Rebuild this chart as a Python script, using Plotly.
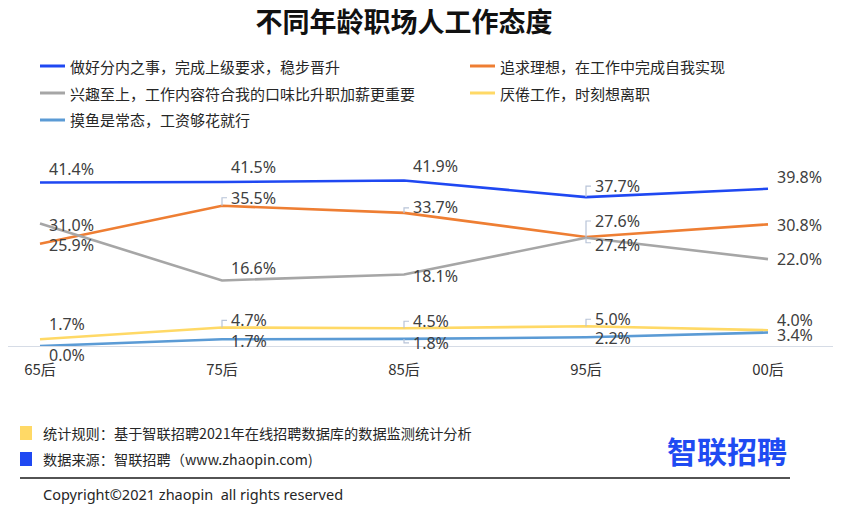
import plotly.graph_objects as go

# data
categories = ["65后", "75后", "85后", "95后", "00后"]
series_names = [
    "做好分内之事，完成上级要求，稳步晋升",
    "追求理想，在工作中完成自我实现",
    "兴趣至上，工作内容符合我的口味比升职加薪更重要",
    "厌倦工作，时刻想离职",
    "摸鱼是常态，工资够花就行",
]
steady = [41.4, 41.5, 41.9, 37.7, 39.8]
ideal = [25.9, 35.5, 33.7, 27.6, 30.8]
interest = [31.0, 16.6, 18.1, 27.4, 22.0]
tired = [1.7, 4.7, 4.5, 5.0, 4.0]
slacking = [0.0, 1.7, 1.8, 2.2, 3.4]
all_values = [steady, ideal, interest, tired, slacking]

colors = ["#1F48F2", "#EE7E33", "#A6A6A6", "#FFD966", "#5B9BD5"]

# label vertical offsets (px, up is positive) for each series/point
label_shift = [
    [13, 15, 14, 11, 12],
    [-1, 8, 6, 16, -1],
    [-1, 12, -1, -7, 0],
    [15, 7, 7, 7, 10],
    [-9, -2, -4, -1, -2],
]
# small leader brackets: (series, point, dy)
brackets = [(1, 1, 8), (3, 1, 7), (1, 2, 5), (3, 2, 7), (4, 2, -4),
            (0, 3, 11), (1, 3, 16), (2, 3, -5), (3, 3, 7)]

# page has an 8px body margin, so the figure is drawn 8px in
OFF = 8
W, H = 841 - OFF, 509 - OFF
# plot area in page pixels
L, R, T, B = OFF, 835, 150, 346
X0, STEP = 40, 182  # page x of first category, spacing


def px(x):
    return (x - L) / (R - L)


def py(y):
    return (B - y) / (B - T)


fig = go.Figure()
xs = list(range(len(categories)))
for name, vals, c in zip(series_names, all_values, colors):
    fig.add_trace(go.Scatter(x=xs, y=vals, mode="lines", name=name,
                             line=dict(color=c, width=2.6), hoverinfo="skip",
                             showlegend=False))

annotations = []
shapes = []
for si, vals in enumerate(all_values):
    for i, v in enumerate(vals):
        annotations.append(dict(x=i, y=v, xref="x", yref="y", text="%.1f%%" % v,
                                showarrow=False, xanchor="left", yanchor="middle",
                                xshift=7, yshift=label_shift[si][i],
                                font=dict(size=16, color="#404040",
                                          family="Noto Sans, Open Sans")))

for si, i, dy in brackets:
    shapes.append(dict(type="path", xref="x", yref="y", xsizemode="pixel",
                       ysizemode="pixel", xanchor=i, yanchor=all_values[si][i],
                       path="M 0 0 L 0 %d L 5 %d" % (dy, dy),
                       line=dict(color="#B8C4D8", width=1.2)))

# legend (manual, two columns)
leg_pos = [(40, 66), (470, 66), (40, 93), (470, 93), (40, 120)]
for (lx, ly), name, c in zip(leg_pos, series_names, colors):
    shapes.append(dict(type="line", xref="paper", yref="paper",
                       x0=px(lx), x1=px(lx + 25), y0=py(ly), y1=py(ly),
                       line=dict(color=c, width=3)))
    annotations.append(dict(x=px(lx + 28), y=py(ly), xref="paper", yref="paper",
                            text=name, showarrow=False, xanchor="left",
                            yanchor="middle",
                            font=dict(size=15, color="#262626",
                                      family="Noto Sans CJK SC")))

# footer
foot = [("#FFD966", 433, "统计规则：基于智联招聘2021年在线招聘数据库的数据监测统计分析"),
        ("#1F48F2", 459, "数据来源：智联招聘（www.zhaopin.com)")]
for c, fy, t in foot:
    shapes.append(dict(type="rect", xref="paper", yref="paper",
                       x0=px(20), x1=px(32), y0=py(fy - 7), y1=py(fy + 7),
                       fillcolor=c, line=dict(width=0)))
    annotations.append(dict(x=px(41), y=py(fy), xref="paper", yref="paper",
                            text=t, showarrow=False, xanchor="left", yanchor="middle",
                            font=dict(size=14.2, color="#262626",
                                      family="Noto Sans CJK SC")))

shapes.append(dict(type="line", xref="paper", yref="paper", x0=px(20), x1=px(790),
                   y0=py(478), y1=py(478), line=dict(color="#1a1a1a", width=1.5)))
annotations.append(dict(x=px(41), y=py(494), xref="paper", yref="paper",
                        text="Copyright©2021 zhaopin  all rights reserved",
                        showarrow=False, xanchor="left", yanchor="middle",
                        font=dict(size=14.5, color="#262626", family="Noto Sans")))

# logo
annotations.append(dict(x=px(727), y=py(450), xref="paper", yref="paper",
                        text="<b>智联招聘</b>", showarrow=False, xanchor="center",
                        yanchor="middle",
                        font=dict(size=30, color="#1F4BF2",
                                  family="Noto Sans CJK SC")))

fig.update_layout(
    width=W, height=H,
    margin=dict(l=L - OFF, r=W - (R - OFF), t=T - OFF, b=H - (B - OFF)),
    plot_bgcolor="white", paper_bgcolor="white",
    title=dict(text="<b>不同年龄职场人工作态度</b>", x=(404 - OFF) / W,
               xanchor="center", y=1 - (23 - OFF) / H, yanchor="middle",
               font=dict(size=27, color="#111111", family="Noto Sans CJK SC")),
    xaxis=dict(range=[(L - X0) / STEP, (R - X0) / STEP], tickvals=xs,
               ticktext=categories, showgrid=False, zeroline=False,
               showline=True, linecolor="#D6DCE6", linewidth=1, ticks="",
               ticklabelstandoff=10,
               tickfont=dict(size=15, color="#333333",
                             family="Noto Sans CJK SC")),
    yaxis=dict(range=[0, (B - T) / 3.95], visible=False, showgrid=False),
    annotations=annotations,
    shapes=shapes,
    showlegend=False,
)

fig.write_html("out.html")
